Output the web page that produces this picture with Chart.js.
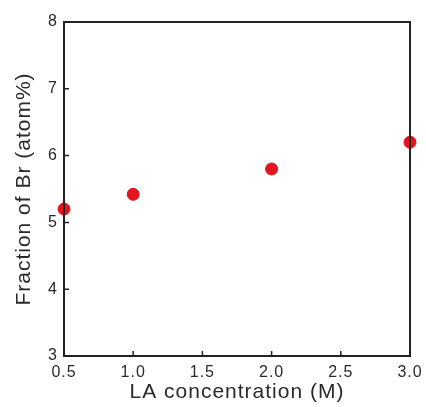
<!DOCTYPE html>
<html>
<head>
<meta charset="utf-8">
<script src="https://cdn.jsdelivr.net/npm/chart.js@4"></script>
<style>
  html, body { margin: 0; padding: 0; background: #fff; }
  #wrap { width: 426px; height: 407px; }
</style>
</head>
<body>
<div id="wrap"><canvas id="chart"></canvas></div>
<script>
// data
const concentrations = [0.5, 1.0, 2.0, 3.0];
const brFraction = [5.2, 5.42, 5.8, 6.2];
const xTicks = [0.5, 1.0, 1.5, 2.0, 2.5, 3.0];
const yTicks = [3, 4, 5, 6, 7, 8];

const axisColor = "#222";
const textColor = "#2a2a2a";
const font = "'Liberation Sans', Arial, sans-serif";

// wider text like the original figure
const spacingPlugin = {
  id: "spacing",
  beforeDraw(chart) {
    chart.ctx.letterSpacing = "1px";
  },
};

// frame + inward ticks (bottom and left only)
const framePlugin = {
  id: "frame",
  afterDatasetsDraw(chart) {
    const { ctx, chartArea: a, scales } = chart;
    ctx.save();
    ctx.strokeStyle = axisColor;
    ctx.lineWidth = 2;
    ctx.strokeRect(a.left, a.top, a.right - a.left, a.bottom - a.top);
    ctx.lineWidth = 1.5;
    ctx.beginPath();
    scales.x.ticks.forEach((t) => {
      const px = scales.x.getPixelForValue(t.value);
      ctx.moveTo(px, a.bottom);
      ctx.lineTo(px, a.bottom - 5);
    });
    scales.y.ticks.forEach((t) => {
      const py = scales.y.getPixelForValue(t.value);
      ctx.moveTo(a.left, py);
      ctx.lineTo(a.left + 5, py);
    });
    ctx.stroke();
    ctx.restore();
  },
};

new Chart(document.getElementById("chart"), {
  type: "scatter",
  data: {
    datasets: [
      {
        label: "Br",
        data: concentrations.map((c, i) => ({ x: c, y: brFraction[i] })),
        backgroundColor: "#e3141c",
        borderColor: "#e3141c",
        pointRadius: 6,
        pointHoverRadius: 6,
        clip: false,
      },
    ],
  },
  options: {
    responsive: true,
    maintainAspectRatio: false,
    animation: false,
    layout: { padding: { left: 0, right: 16, top: 22, bottom: 0 } },
    plugins: {
      legend: { display: false },
      tooltip: { enabled: false },
    },
    scales: {
      x: {
        type: "linear",
        min: 0.5,
        max: 3.0,
        afterBuildTicks: (s) => { s.ticks = xTicks.map((v) => ({ value: v })); },
        afterFit: (s) => {
          s.height = 51;
          s.paddingLeft = 0;
          s.paddingRight = 0;
        },
        grid: { display: false, drawTicks: false },
        border: { display: false },
        ticks: {
          padding: 7,
          color: textColor,
          font: { family: font, size: 16 },
          callback: (v) => v.toFixed(1),
        },
        title: {
          display: true,
          text: "LA concentration (M)",
          color: textColor,
          font: { family: font, size: 21 },
          padding: { top: 0, bottom: 2 },
        },
      },
      y: {
        type: "linear",
        min: 3,
        max: 8,
        afterBuildTicks: (s) => { s.ticks = yTicks.map((v) => ({ value: v })); },
        afterFit: (s) => {
          s.width = 64;
          s.paddingTop = 0;
          s.paddingBottom = 0;
        },
        grid: { display: false, drawTicks: false },
        border: { display: false },
        ticks: {
          padding: 6,
          color: textColor,
          font: { family: font, size: 16 },
        },
        title: {
          display: true,
          text: "Fraction of Br (atom%)",
          color: textColor,
          font: { family: font, size: 21 },
          padding: { top: 12, bottom: 0 },
        },
      },
    },
  },
  plugins: [spacingPlugin, framePlugin],
});
</script>
</body>
</html>
